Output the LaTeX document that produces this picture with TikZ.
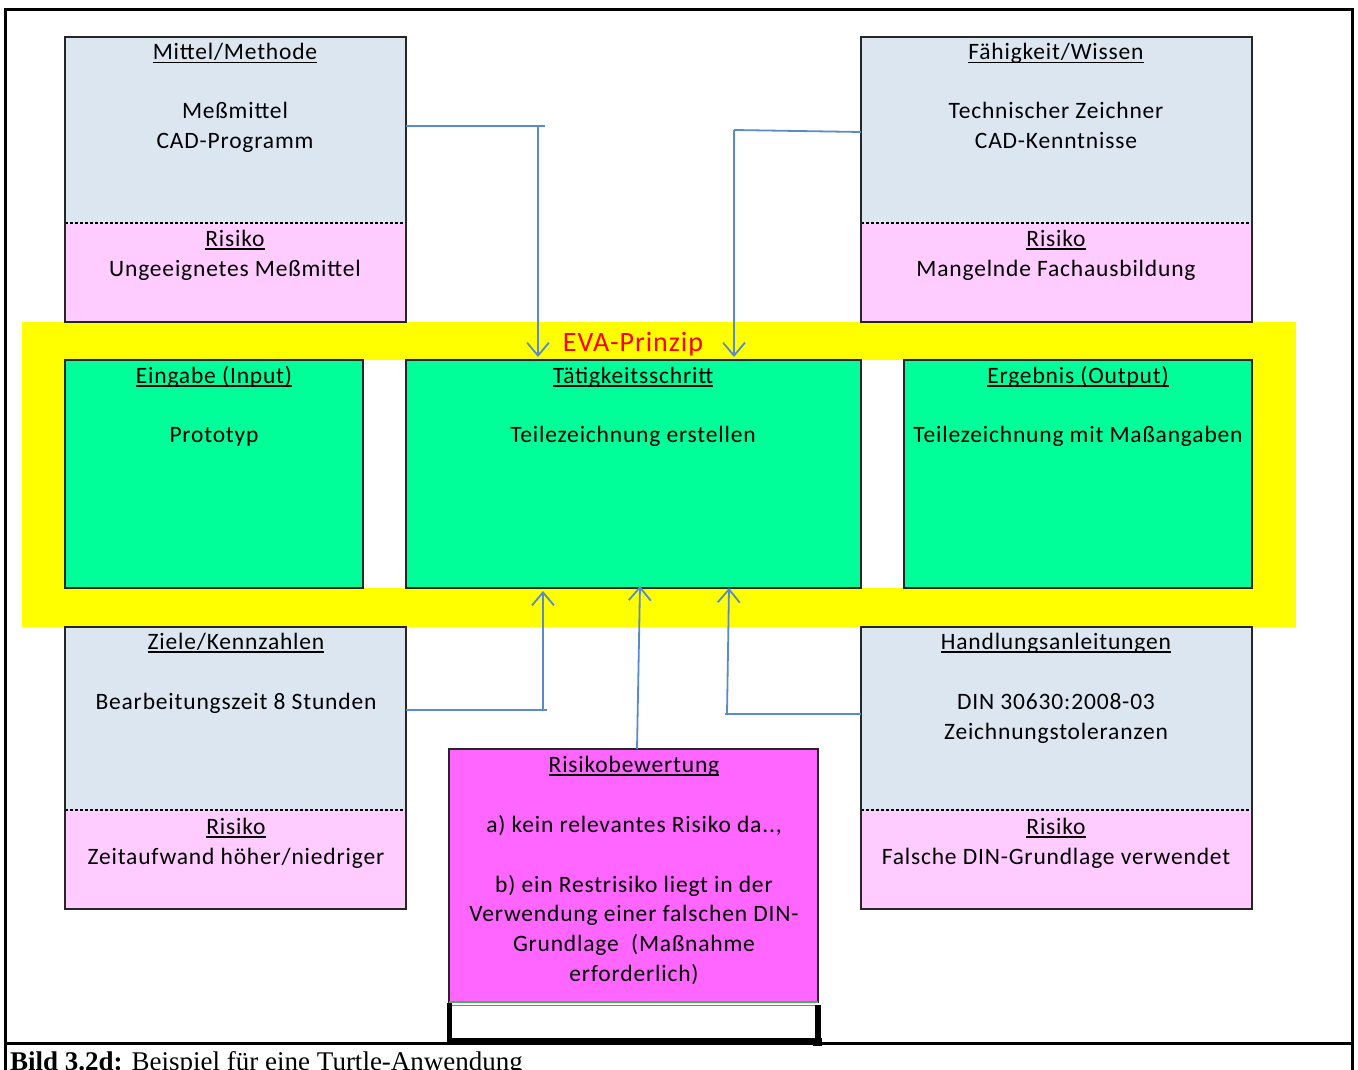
\documentclass[tikz,border=0pt]{standalone}
\usepackage{fontspec}
\setmainfont{Carlito}[LetterSpace=3.5]
\newfontfamily\capfont{Liberation Serif}
\usetikzlibrary{arrows.meta}
\definecolor{bgblue}{HTML}{DCE6F1}
\definecolor{riskpink}{HTML}{FFCCFF}
\definecolor{evagreen}{HTML}{00FF99}
\definecolor{rbmagenta}{HTML}{FF66FF}
\definecolor{bandyellow}{HTML}{FFFF00}
\definecolor{boxline}{HTML}{262626}
\definecolor{arrowblue}{HTML}{5B8BC6}
\definecolor{edgegreen}{HTML}{4CAF50}
\newsavebox\ttlbox
\newcommand{\ttl}[1]{\sbox\ttlbox{#1}\usebox\ttlbox\llap{\rule[-3.5pt]{\wd\ttlbox}{1.4pt}}}
\tikzset{
  box/.style={draw=boxline, line width=1.6pt, inner sep=0pt, outer sep=0pt, anchor=north west},
  splitbox/.style={box, fill=bgblue, path picture={
     \fill[riskpink] ([yshift=#1]path picture bounding box.south west) rectangle (path picture bounding box.south east);
     \draw[black, line width=1.4pt, dash pattern=on 2.5pt off 2.5pt] ([yshift=#1]path picture bounding box.south west) -- ([yshift=#1]path picture bounding box.south east);}},
  greenbox/.style={box, fill=evagreen},
  txt/.style={font=\fontsize{23.5}{30}\selectfont, anchor=base, inner sep=0pt, text=black},
  conn/.style={draw=arrowblue, line width=1.8pt},
  arr/.style={conn, -{Straight Barb[length=13pt,width=22pt,line width=1.8pt]}}
}
\begin{document}
\begin{tikzpicture}[x=1pt,y=-1pt]
\useasboundingbox (0,0) rectangle (1358,1070);
\fill[white] (0,0) rectangle (1358,1070);

% yellow EVA band
\node[inner sep=0pt, outer sep=0pt, anchor=north west, fill=bandyellow, minimum width=1274pt, minimum height=305pt] (band) at (22,322) {};
\node[inner sep=0pt, outer sep=0pt, anchor=north west, fill=white, minimum width=1187pt, minimum height=228pt] (gap) at (65,360) {};

% top boxes
\node[splitbox=99pt, minimum width=341pt, minimum height=285pt] (mm) at (65,37) {};
\node[splitbox=99pt, minimum width=391pt, minimum height=285pt] (fw) at (861,37) {};
% bottom boxes
\node[splitbox=99pt, minimum width=341pt, minimum height=282pt] (zk) at (65,627) {};
\node[splitbox=99pt, minimum width=391pt, minimum height=282pt] (ha) at (861,627) {};

% green boxes
\node[greenbox, minimum width=298pt, minimum height=228pt] (ein) at (65,360) {};
\node[greenbox, minimum width=455pt, minimum height=228pt] (tk) at (406,360) {};
\node[greenbox, minimum width=348pt, minimum height=228pt] (erg) at (904,360) {};

% Risikobewertung
\node[box, fill=rbmagenta, minimum width=369pt, minimum height=253pt] (rb) at (449,749) {};
\draw[edgegreen, line width=1.3pt] (rb.south west) -- (rb.south east);
\node[box, draw=gray, line width=0.8pt, minimum width=369pt, minimum height=38pt] (wb) at (449,1005) {};
\fill[black] (447,1003) rectangle (452,1045);
\fill[black] (815,1005) rectangle (821,1040);
\fill[black] (813,1038) rectangle (822,1046);
\fill[black] (447,1038) rectangle (813,1044);

% outer frame and caption rule
\draw[black, line width=3pt] (5,1075) -- (5,10) -- (1352,10) -- (1352,1075);
\draw[black, line width=3pt] (5,1043.5) -- (1352,1043.5);

% texts: Mittel/Methode
\node[txt] (t1) at (235,60) {\ttl{Mittel/Methode}};
\node[txt] (t2) at (235,119) {Meßmittel};
\node[txt] (t3) at (235,149) {CAD-Programm};
\node[txt] (t4) at (235,246) {\ttl{Risiko}};
\node[txt] (t5) at (235,276) {Ungeeignetes Meßmittel};
% Fähigkeit/Wissen
\node[txt] (f1) at (1056,60) {\ttl{Fähigkeit/Wissen}};
\node[txt] (f2) at (1056,119) {Technischer Zeichner};
\node[txt] (f3) at (1056,149) {CAD-Kenntnisse};
\node[txt] (f4) at (1056,246) {\ttl{Risiko}};
\node[txt] (f5) at (1056,276) {Mangelnde Fachausbildung};
% EVA
\node[txt, font=\fontsize{28}{32}\selectfont, text=red] (eva) at (633,351) {EVA-Prinzip};
\node[txt] (e1) at (214,383) {\ttl{Eingabe (Input)}};
\node[txt] (e2) at (214,442) {Prototyp};
\node[txt] (k1) at (633,383) {\ttl{Tätigkeitsschritt}};
\node[txt] (k2) at (633,442) {Teilezeichnung erstellen};
\node[txt] (o1) at (1078,383) {\ttl{Ergebnis (Output)}};
\node[txt] (o2) at (1078,442) {Teilezeichnung mit Maßangaben};
% Ziele/Kennzahlen
\node[txt] (z1) at (236,649) {\ttl{Ziele/Kennzahlen}};
\node[txt] (z2) at (236,709) {Bearbeitungszeit 8 Stunden};
\node[txt] (z3) at (236,834) {\ttl{Risiko}};
\node[txt] (z4) at (236,864) {Zeitaufwand höher/niedriger};
% Handlungsanleitungen
\node[txt] (h1) at (1056,649) {\ttl{Handlungsanleitungen}};
\node[txt] (h2) at (1056,709) {DIN 30630:2008-03};
\node[txt] (h3) at (1056,739) {Zeichnungstoleranzen};
\node[txt] (h4) at (1056,834) {\ttl{Risiko}};
\node[txt] (h5) at (1056,864) {Falsche DIN-Grundlage verwendet};
% Risikobewertung
\node[txt] (r1) at (634,772) {\ttl{Risikobewertung}};
\node[txt] (r2) at (634,832) {a) kein relevantes Risiko da..,};
\node[txt] (r3) at (634,892) {b) ein Restrisiko liegt in der};
\node[txt] (r4) at (634,921) {Verwendung einer falschen DIN-};
\node[txt] (r5) at (634,951) {Grundlage\ \ (Maßnahme};
\node[txt] (r6) at (634,981) {erforderlich)};

% caption
\node[anchor=base west, inner sep=0pt, font=\capfont\fontsize{27}{30}\selectfont] (cap) at (10,1070.5) {\textbf{Bild 3.2d:} Beispiel für eine Turtle-Anwendung};

% connectors
\coordinate (c1) at (538,126);
\draw[conn] (mm.east |- c1) -- ([xshift=7pt]c1);
\draw[arr] (c1) -- ([yshift=3pt]c1 |- tk.north);
\coordinate (c2) at (734,130);
\draw[conn] (fw.west |- 0,132) -- (c2);
\draw[arr] (c2) -- ([yshift=3pt]c2 |- tk.north);
\coordinate (c3) at (543,710);
\draw[conn] (zk.east |- c3) -- ([xshift=4pt]c3);
\draw[arr] (c3) -- ([yshift=-3pt]c3 |- tk.south);
\coordinate (c4) at (640,586);
\draw[arr] (637,749) -- (c4);
\coordinate (c5) at (727,714);
\draw[conn] (ha.west |- c5) -- ([xshift=-2pt]c5);
\draw[arr] (c5) -- (729,588);
\end{tikzpicture}
\end{document}
